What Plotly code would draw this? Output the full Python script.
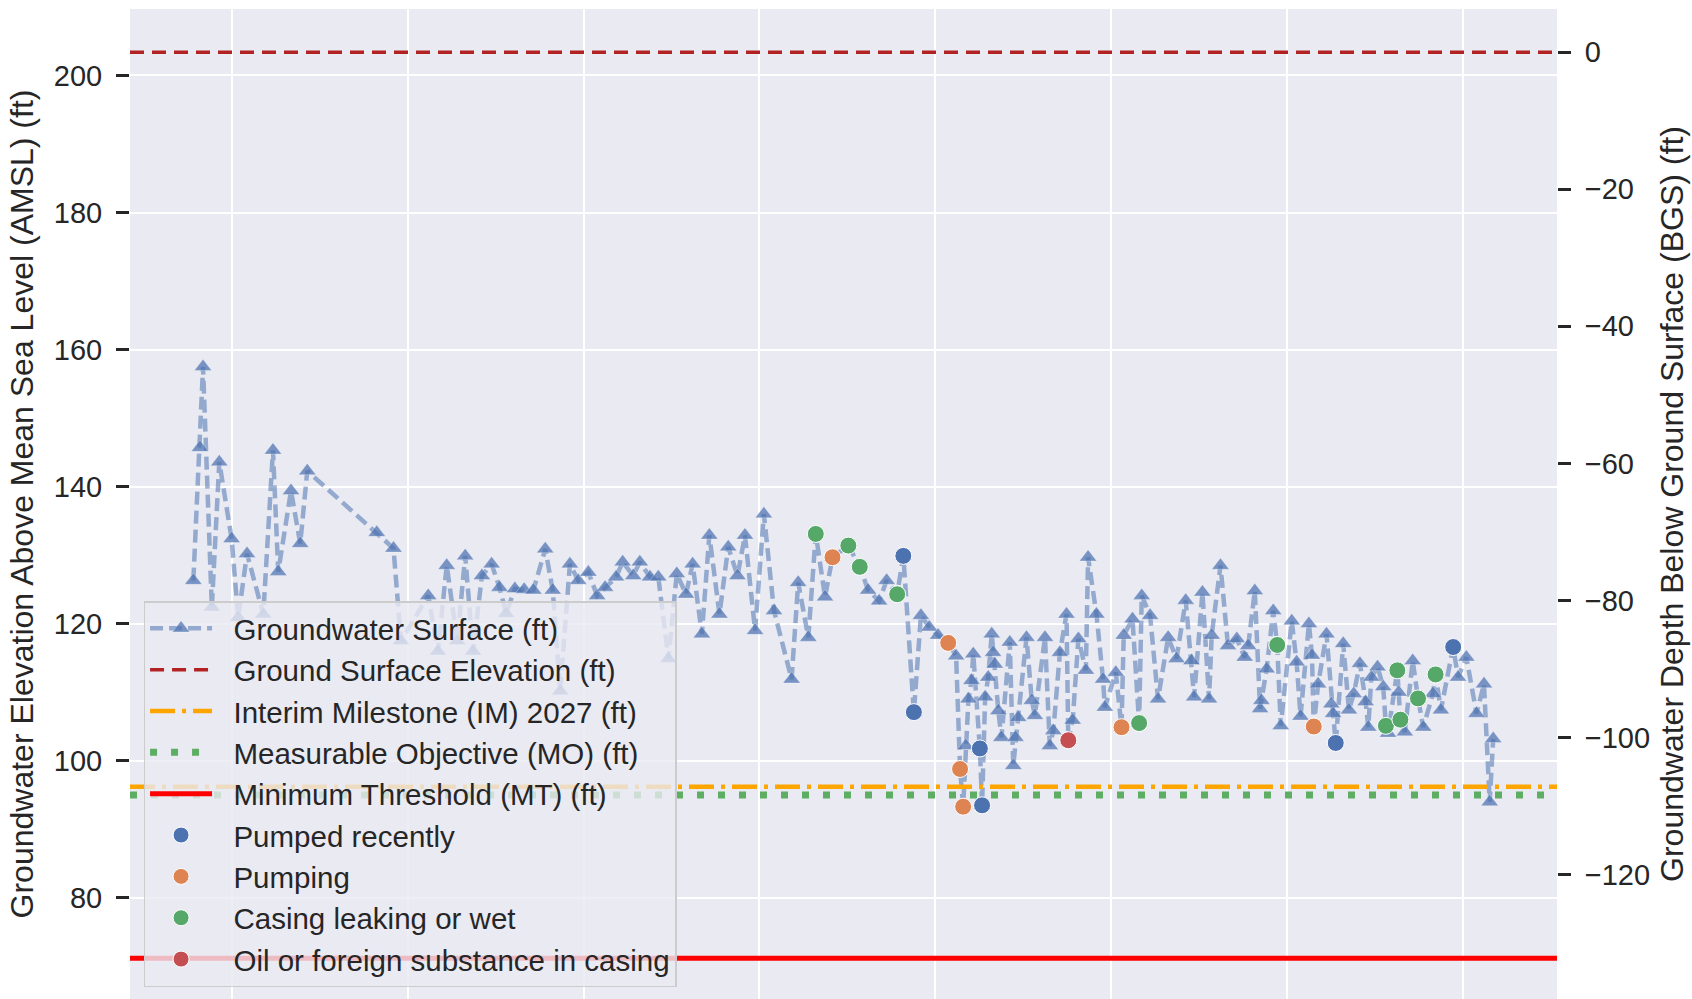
import plotly.graph_objects as go

# Groundwater surface elevation record (decimal year, ft AMSL)
years = [
    1995.13, 1995.28, 1995.35, 1995.55, 1995.72, 1996.00, 1996.15, 1996.35, 1996.72, 1996.94,
    1997.06, 1997.35, 1997.56, 1997.72, 1999.30, 1999.68, 1999.85, 2000.47, 2000.69, 2000.89,
    2001.13, 2001.31, 2001.49, 2001.69, 2001.91, 2002.09, 2002.24, 2002.44, 2002.65, 2002.86,
    2003.13, 2003.30, 2003.47, 2003.69, 2003.88, 2004.11, 2004.31, 2004.49, 2004.74, 2004.89,
    2005.13, 2005.28, 2005.51, 2005.70, 2005.93, 2006.12, 2006.33, 2006.48, 2006.69, 2006.86,
    2007.09, 2007.29, 2007.50, 2007.67, 2007.90, 2008.10, 2008.33, 2008.73, 2008.88, 2009.11,
    2009.28, 2009.49, 2009.66, 2010.02, 2010.28, 2010.47, 2010.72, 2010.89, 2011.13, 2011.27,
    2011.51, 2011.67, 2011.86, 2012.06, 2012.29, 2012.47, 2012.56, 2012.63, 2012.69, 2012.75,
    2012.82, 2012.86, 2013.01, 2013.06, 2013.13, 2013.20, 2013.28, 2013.31, 2013.35, 2013.43,
    2013.50, 2013.69, 2013.77, 2013.82, 2013.88, 2014.07, 2014.19, 2014.26, 2014.49, 2014.60,
    2014.68, 2014.83, 2014.98, 2015.02, 2015.12, 2015.25, 2015.42, 2015.47, 2015.66, 2015.81,
    2015.85, 2016.10, 2016.23, 2016.28, 2016.48, 2016.63, 2016.69, 2016.88, 2017.06, 2017.29,
    2017.48, 2017.69, 2017.82, 2017.88, 2018.07, 2018.22, 2018.28, 2018.48, 2018.65, 2018.85,
    2019.03, 2019.11, 2019.26, 2019.38, 2019.41, 2019.53, 2019.68, 2019.77, 2019.85, 2020.10,
    2020.21, 2020.30, 2020.49, 2020.56, 2020.60, 2020.70, 2020.89, 2021.00, 2021.04, 2021.10,
    2021.27, 2021.40, 2021.51, 2021.65, 2021.78, 2021.84, 2021.91, 2022.05, 2022.18, 2022.24,
    2022.29, 2022.50, 2022.53, 2022.57, 2022.67, 2022.85, 2022.97, 2023.09, 2023.31, 2023.37,
    2023.49, 2023.77, 2023.88, 2024.07, 2024.30, 2024.47, 2024.60, 2024.68,
]
elevation = [
    126.3, 145.7, 157.5, 122.4, 143.6, 132.4, 120.9, 130.2, 121.4, 145.3,
    127.6, 139.4, 131.7, 142.3, 133.3, 131.0, 117.5, 124.1, 116.0, 128.5,
    117.5, 129.9, 116.0, 127.0, 128.7, 125.3, 121.5, 125.1, 125.0, 124.9,
    130.9, 124.9, 110.2, 128.7, 126.3, 127.5, 124.1, 125.3, 126.8, 129.0,
    127.0, 129.0, 126.8, 126.8, 114.9, 127.3, 124.3, 128.7, 118.5, 132.9,
    121.4, 131.2, 127.0, 132.9, 119.0, 136.0, 121.9, 111.9, 126.0, 118.0,
    133.1, 123.9, 129.7, 131.4, 128.3, 124.9, 123.3, 126.3, 124.3, 129.9,
    107.1, 121.2, 119.5, 118.3, 117.2, 115.3, 98.8, 93.3, 102.2, 109.0,
    111.7, 115.6, 101.8, 93.5, 109.3, 112.2, 118.5, 115.8, 114.1, 107.3,
    103.4, 117.3, 99.3, 103.4, 106.3, 118.0, 108.8, 106.6, 118.0, 102.2,
    104.4, 115.8, 121.4, 103.0, 105.9, 117.8, 113.2, 129.7, 121.4, 111.9,
    107.8, 112.9, 104.9, 118.3, 120.7, 105.5, 124.1, 121.2, 109.0, 118.0,
    114.9, 123.4, 114.6, 109.3, 124.6, 109.0, 118.3, 128.5, 116.8, 117.8,
    115.1, 116.8, 124.8, 107.6, 108.8, 113.4, 121.9, 116.9, 105.1, 120.4,
    114.4, 106.5, 120.0, 115.4, 105.0, 111.2, 118.5, 108.3, 106.9, 102.6,
    117.1, 107.4, 109.8, 114.2, 108.6, 104.9, 112.2, 113.7, 110.8, 105.1,
    104.0, 113.2, 110.0, 106.0, 104.2, 114.6, 109.1, 104.9, 109.8, 112.6,
    107.4, 116.6, 112.2, 115.1, 106.9, 111.2, 94.0, 103.2,
]

# Flagged measurements
pumped_recently_years = [2011.27, 2011.51, 2013.01, 2013.06, 2021.10, 2023.77]
pumped_recently_elev = [129.9, 107.1, 101.8, 93.5, 102.6, 116.6]

pumping_years = [2009.66, 2012.29, 2012.56, 2012.63, 2016.23, 2020.60]
pumping_elev = [129.7, 117.2, 98.8, 93.3, 104.9, 105.0]

casing_wet_years = [2009.28, 2010.02, 2010.28, 2011.13, 2016.63, 2019.77,
                    2022.24, 2022.50, 2022.57, 2022.97, 2023.37]
casing_wet_elev = [133.1, 131.4, 128.3, 124.3, 105.5, 116.9,
                   105.1, 113.2, 106.0, 109.1, 112.6]

oil_years = [2015.02]
oil_elev = [103.0]

# Reference levels (ft AMSL)
ground_surface = 203.4
interim_milestone_2027 = 96.2
measurable_objective = 95.0
minimum_threshold = 71.2

x_range = [1993.69, 2026.13]
y_range = [65.24, 209.70]

FONT = "Liberation Sans, Arial, sans-serif"
TEXT = "#262626"
PAD = "\u00a0\u00a0"  # small gap between legend symbol and label

fig = go.Figure()

fig.add_trace(go.Scatter(
    x=years, y=elevation, mode="lines+markers",
    name=PAD + "Groundwater Surface (ft)",
    line=dict(color="rgba(76,114,176,0.55)", width=4.5, dash="13px,6px"),
    marker=dict(symbol="triangle-up", size=15, color="rgba(76,114,176,0.72)",
                line=dict(color="rgba(255,255,255,0.5)", width=0.6)),
    legendgroup="g1",
))

# same record expressed as depth below ground surface, carried by the right axis
fig.add_trace(go.Scatter(
    x=years, y=[v - ground_surface for v in elevation], yaxis="y2",
    mode="lines", line=dict(width=0), opacity=0, showlegend=False, hoverinfo="skip",
))

def hline(level, name, color, width, dash, group):
    fig.add_trace(go.Scatter(
        x=x_range, y=[level, level], mode="lines", name=PAD + name,
        line=dict(color=color, width=width, dash=dash), legendgroup=group,
    ))

hline(ground_surface, "Ground Surface Elevation (ft)", "#B22222", 3.5, "14px,8px", "g2")
hline(interim_milestone_2027, "Interim Milestone (IM) 2027 (ft)", "#FFA500", 4.5, "25px,7px,4px,7px", "g3")
hline(measurable_objective, "Measurable Objective (MO) (ft)", "#5DAE62", 7, "7px,14px", "g4")
hline(minimum_threshold, "Minimum Threshold (MT) (ft)", "#FF0000", 5, "solid", "g5")

def flags(xs, ys, name, color, group):
    fig.add_trace(go.Scatter(
        x=xs, y=ys, mode="markers", name=PAD + name, legendgroup=group,
        marker=dict(symbol="circle", size=17, color=color,
                    line=dict(color="white", width=1)),
    ))

flags(pumped_recently_years, pumped_recently_elev, "Pumped recently", "#4C72B0", "g6")
flags(pumping_years, pumping_elev, "Pumping", "#DD8452", "g7")
flags(casing_wet_years, casing_wet_elev, "Casing leaking or wet", "#55A868", "g8")
flags(oil_years, oil_elev, "Oil or foreign substance in casing", "#C44E52", "g9")

fig.update_layout(
    width=1692, height=999,
    margin=dict(l=130, r=135, t=9, b=0),
    paper_bgcolor="white",
    plot_bgcolor="#EAEAF2",
    font=dict(family=FONT, color=TEXT, size=29),
    showlegend=True,
    legend=dict(
        x=0.0095, y=0.012, xanchor="left", yanchor="bottom",
        bgcolor="rgba(234,234,242,0.8)", bordercolor="#CCCCCC", borderwidth=1.5,
        font=dict(family=FONT, size=29.5, color=TEXT),
        itemwidth=62, tracegroupgap=6, traceorder="normal",
    ),
    xaxis=dict(
        range=x_range, tick0=1996, dtick=4, showticklabels=False, ticks="",
        showgrid=True, gridcolor="white", gridwidth=2.2, zeroline=False, showline=False,
    ),
    yaxis=dict(
        range=y_range, tick0=0, dtick=20, showgrid=True, gridcolor="white", gridwidth=2.2,
        zeroline=False, showline=False, ticks="outside", ticklen=13, tickwidth=2.5,
        tickcolor=TEXT, tickfont=dict(size=29), ticklabelstandoff=8,
        title=dict(text="Groundwater Elevation Above Mean Sea Level (AMSL) (ft)",
                   font=dict(size=32), standoff=10),
    ),
    yaxis2=dict(
        range=[y_range[0] - ground_surface, y_range[1] - ground_surface],
        overlaying="y", side="right", anchor="x",
        tick0=0, dtick=20, showgrid=False, zeroline=False, showline=False,
        ticks="outside", ticklen=13, tickwidth=2.5, tickcolor=TEXT, tickfont=dict(size=29),
        ticklabelstandoff=8,
        title=dict(text="Groundwater Depth Below Ground Surface (BGS) (ft)",
                   font=dict(size=32), standoff=11),
    ),
)

fig.write_html("out.html")
